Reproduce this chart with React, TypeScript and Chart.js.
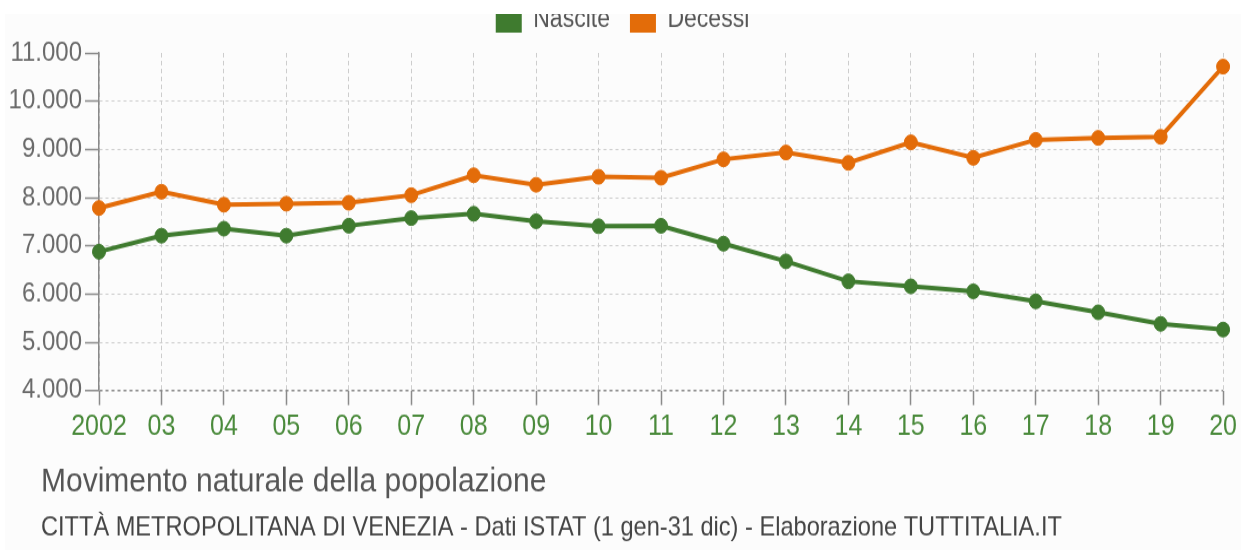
import React, { useEffect, useRef } from 'react';
import { Chart, registerables } from 'chart.js';

Chart.register(...registerables);

// ---- data ----
const years = ['2002', '03', '04', '05', '06', '07', '08', '09', '10', '11', '12', '13', '14', '15', '16', '17', '18', '19', '20'];
const nascite = [6878, 7210, 7355, 7210, 7417, 7575, 7665, 7510, 7406, 7415, 7044, 6678, 6263, 6160, 6056, 5849, 5621, 5381, 5263];
const decessi = [7785, 8121, 7852, 7873, 7893, 8050, 8463, 8266, 8432, 8411, 8794, 8935, 8721, 9146, 8825, 9198, 9239, 9260, 10716];
const seriesNames = ['Nascite', 'Decessi'];
const yTickValues = [4000, 5000, 6000, 7000, 8000, 9000, 10000, 11000];
const titleText = 'Movimento naturale della popolazione';
const subtitleText = 'CITTÀ METROPOLITANA DI VENEZIA - Dati ISTAT (1 gen-31 dic) - Elaborazione TUTTITALIA.IT';

// ---- style ----
const GREEN = '#3f7b2f';
const ORANGE = '#e36c09';
const TICK_GREEN = '#4a8a3b';
const FONT = "'Liberation Sans', Arial, Helvetica, sans-serif";
const W = 1236;
const H = 500;
const STRETCH = 1.13;

const fmt = (v: number) => String(v).replace(/\B(?=(\d{3})+(?!\d))/g, '.');

const layoutTweaks = {
  id: 'layoutTweaks',
  beforeInit(chart: any) {
    const legend = chart.legend;
    if (!legend) return;
    const orig = legend.fit;
    legend.fit = function () {
      orig.call(this);
      this.height += 8;
    };
  },
  afterLayout(chart: any) {
    const l = chart.legend;
    if (l) {
      l.left += 8;
      l.right += 8;
    }
    for (const b of chart.boxes) {
      if (b !== l && b.position === 'bottom' && !b.axis) {
        b.left += 36;
        b.right += 36;
      }
    }
  },
};

export default function App() {
  const ref = useRef<HTMLCanvasElement | null>(null);

  useEffect(() => {
    if (!ref.current) return;
    Chart.defaults.font.family = FONT;
    const chart = new Chart(ref.current, {
      type: 'line',
      data: {
        labels: years,
        datasets: [
          {
            label: seriesNames[0],
            data: nascite,
            borderColor: GREEN,
            backgroundColor: GREEN,
            pointBackgroundColor: GREEN,
            pointBorderColor: GREEN,
            borderWidth: 4,
            pointRadius: 6.5,
            pointBorderWidth: 1,
            tension: 0,
          },
          {
            label: seriesNames[1],
            data: decessi,
            borderColor: ORANGE,
            backgroundColor: ORANGE,
            pointBackgroundColor: ORANGE,
            pointBorderColor: ORANGE,
            borderWidth: 4,
            pointRadius: 6.5,
            pointBorderWidth: 1,
            tension: 0,
          },
        ],
      },
      plugins: [layoutTweaks],
      options: {
        responsive: false,
        animation: false,
        devicePixelRatio: 1,
        layout: { padding: { top: 0, left: 0, right: 17, bottom: 1 } },
        scales: {
          x: {
            type: 'category',
            grid: {
              color: '#cdcdcd',
              lineWidth: 1,
              tickLength: 13,
              tickColor: '#8a8a8a',
              tickWidth: 1.5,
            },
            border: { display: false, dash: [4, 3] },
            ticks: {
              color: TICK_GREEN,
              font: { size: 25, family: FONT },
              padding: 4,
              autoSkip: false,
              maxRotation: 0,
            },
          },
          y: {
            type: 'linear',
            min: 4000,
            max: 11000,
            afterBuildTicks: (s: any) => {
              s.ticks = yTickValues.map((v) => ({ value: v }));
            },
            afterFit: (s: any) => {
              s.width = 94;
            },
            grid: {
              color: (ctx: any) => {
                const v = ctx.tick ? ctx.tick.value : 0;
                if (v === 11000) return 'rgba(0,0,0,0)';
                if (v === 4000) return '#8a8a8a';
                return '#cdcdcd';
              },
              lineWidth: (ctx: any) => (ctx.tick && ctx.tick.value === 4000 ? 1.5 : 1),
              tickLength: 14,
              tickColor: '#8a8a8a',
              tickWidth: 1.5,
            },
            border: { display: true, color: '#8a8a8a', width: 1.5, dash: [3, 3] },
            ticks: {
              color: '#6a6a6a',
              font: { size: 24, family: FONT },
              padding: 3,
              callback: (v: any) => fmt(Number(v)),
            },
          },
        },
        plugins: {
          legend: {
            display: true,
            position: 'top',
            align: 'center',
            labels: {
              boxWidth: 26,
              boxHeight: 23,
              padding: 20,
              color: '#555',
              font: { size: 23, family: FONT },
              generateLabels: (c: any) =>
                Chart.defaults.plugins.legend.labels.generateLabels(c).map((l: any) => ({ ...l, lineWidth: 0 })),
            },
          },
          title: {
            display: true,
            text: titleText,
            position: 'bottom',
            align: 'start',
            color: '#555',
            font: { size: 30, weight: 'normal', family: FONT },
            padding: { top: 12, bottom: 2 },
            weight: 10,
            fullSize: true,
          } as any,
          subtitle: {
            display: true,
            text: subtitleText,
            position: 'bottom',
            align: 'start',
            color: '#444',
            font: { size: 23.6, weight: 'normal', family: FONT },
            padding: { top: 7, bottom: 3 },
            weight: 20,
            fullSize: true,
          } as any,
          tooltip: { enabled: false },
        },
      } as any,
    });
    return () => chart.destroy();
  }, []);

  return (
    <div
      style={{
        position: 'absolute',
        left: 5,
        top: 14,
        width: W,
        height: 536,
        overflow: 'hidden',
        background: '#fcfcfc',
      }}
    >
      <div
        style={{
          position: 'absolute',
          left: 0,
          top: -29.6,
          width: W,
          height: H,
          transform: `scaleY(${STRETCH})`,
          transformOrigin: '0 0',
        }}
      >
        <canvas ref={ref} width={W} height={H} style={{ display: 'block', width: W, height: H }} />
      </div>
    </div>
  );
}
